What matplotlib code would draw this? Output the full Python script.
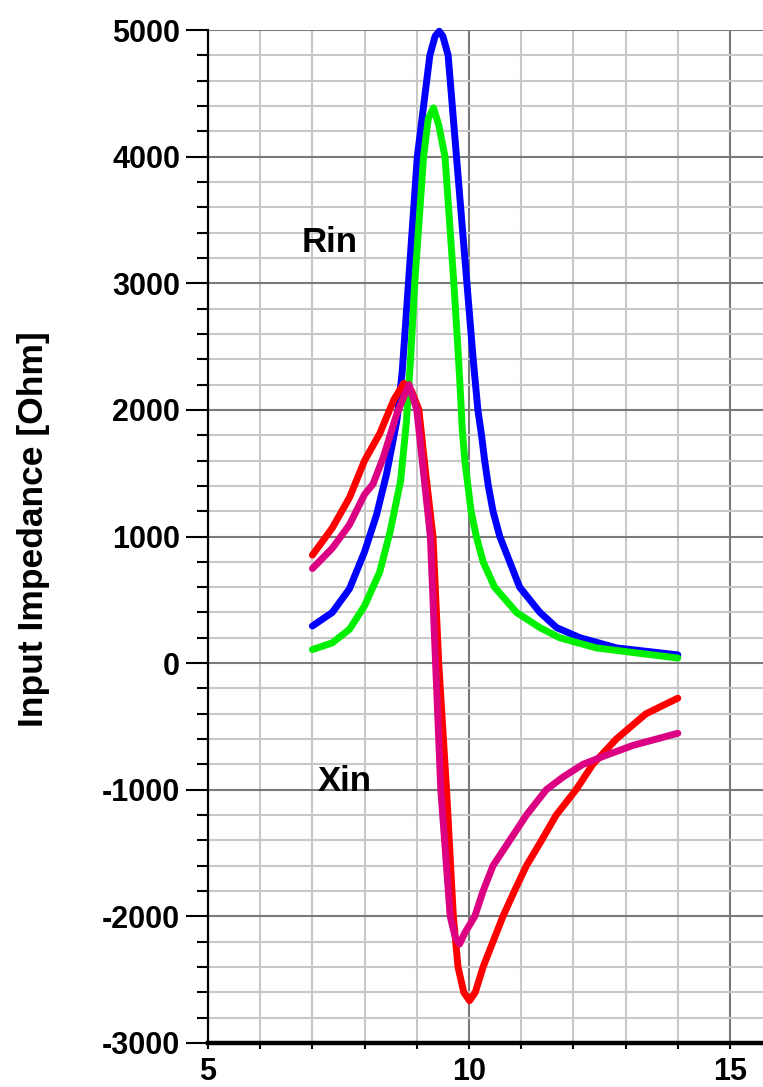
import matplotlib
matplotlib.use("Agg")
import matplotlib.pyplot as plt
from matplotlib.ticker import MultipleLocator

plt.rcParams['font.family'] = ['Liberation Sans', 'DejaVu Sans']
plt.rcParams['axes.unicode_minus'] = False

# Frequency axis values and impedance curves
rin1_x = [7.0, 7.38, 7.71, 8.0, 8.23, 8.42, 8.62, 8.72, 8.84, 9.01, 9.13, 9.25, 9.35, 9.43,
          9.5, 9.6, 9.76, 9.96, 10.08, 10.17, 10.24, 10.30, 10.37, 10.46, 10.59, 10.78,
          10.97, 11.36, 11.68, 12.13, 12.83, 14.0]
rin1_y = [293, 400, 587, 880, 1173, 1493, 1920, 2300, 3000, 4000, 4400, 4800, 4950, 4990,
          4950, 4800, 4000, 3000, 2400, 2000, 1800, 1600, 1400, 1200, 1000, 800,
          600, 400, 280, 200, 120, 65]

rin2_x = [7.0, 7.38, 7.71, 8.0, 8.29, 8.49, 8.69, 8.80, 8.88, 8.96, 9.13, 9.22, 9.32, 9.42,
          9.54, 9.71, 9.80, 9.84, 9.87, 9.92, 9.98, 10.04, 10.14, 10.27, 10.49, 10.91,
          11.36, 11.74, 12.44, 14.0]
rin2_y = [107, 160, 267, 453, 720, 1040, 1440, 1900, 2400, 3000, 4000, 4300, 4385, 4250,
          4000, 3000, 2400, 2100, 1850, 1600, 1400, 1200, 1000, 800, 600, 400,
          280, 200, 120, 40]

xin1_x = [7.0, 7.38, 7.71, 8.0, 8.29, 8.56, 8.75, 8.9, 9.04, 9.17, 9.31, 9.42, 9.57, 9.70,
          9.79, 9.9, 10.01, 10.12, 10.27, 10.46, 10.65, 10.87, 11.1, 11.39, 11.67, 12.05,
          12.37, 12.82, 13.39, 14.0]
xin1_y = [853, 1067, 1307, 1600, 1813, 2080, 2210, 2150, 2000, 1500, 1000, 0, -1000, -2000,
          -2400, -2600, -2666, -2600, -2400, -2200, -2000, -1800, -1600, -1400, -1200, -1000,
          -800, -600, -400, -277]

xin2_x = [7.0, 7.38, 7.71, 8.0, 8.16, 8.36, 8.62, 8.85, 9.0, 9.13, 9.26, 9.36, 9.46, 9.64,
          9.74, 9.82, 9.92, 10.11, 10.27, 10.46, 10.78, 11.1, 11.48, 11.8, 12.18, 12.63,
          13.14, 14.0]
xin2_y = [747, 907, 1093, 1333, 1413, 1627, 1973, 2200, 2000, 1500, 1000, 0, -1000, -2000,
          -2170, -2218, -2130, -2000, -1800, -1600, -1400, -1200, -1000, -900, -800, -727,
          -650, -554]

x_ticks = [5, 10, 15]
y_ticks = [-3000, -2000, -1000, 0, 1000, 2000, 3000, 4000, 5000]
y_label = "Input Impedance [Ohm]"
annotations = [("Rin", 6.80, 3244), ("Xin", 7.11, -1013)]

W, H = 763, 1087
fig = plt.figure(figsize=(W / 100, H / 100), dpi=100)
ax = fig.add_axes([208 / W, 1 - 1043 / H, (W - 208) / W, (1043 - 30) / H])

ax.set_xlim(5, 5 + 555 / 52.2)
ax.set_ylim(-3000, 5000)

ax.xaxis.set_major_locator(MultipleLocator(5))
ax.xaxis.set_minor_locator(MultipleLocator(1))
ax.yaxis.set_major_locator(MultipleLocator(1000))
ax.yaxis.set_minor_locator(MultipleLocator(200))
ax.set_xticks(x_ticks)
ax.set_yticks(y_ticks)

ax.grid(which='minor', color='#c8c8c8', linewidth=1.5, zorder=0)
ax.grid(which='major', color='#7a7a7a', linewidth=1.5, zorder=0)
ax.set_axisbelow(True)

for s in ['top', 'right']:
    ax.spines[s].set_visible(False)
ax.spines['left'].set_linewidth(1.6)
ax.spines['bottom'].set_linewidth(3.2)
ax.spines['left'].set_zorder(5)
ax.spines['bottom'].set_zorder(5)

ax.tick_params(axis='y', which='major', direction='out', length=16, width=1.5,
               labelsize=22, pad=4)
ax.tick_params(axis='y', which='minor', direction='out', length=8, width=1.5)
ax.tick_params(axis='x', which='major', direction='out', length=4, width=1.5,
               labelsize=22, pad=6)
ax.tick_params(axis='x', which='minor', direction='out', length=4, width=1.5)
for lab in ax.get_xticklabels() + ax.get_yticklabels():
    lab.set_fontweight('bold')

lw = 5.0
style = dict(linewidth=lw, zorder=3, clip_on=False, solid_joinstyle='round',
             solid_capstyle='round')
ax.plot(rin1_x, rin1_y, color='#0000ff', **style)
ax.plot(rin2_x, rin2_y, color='#00f000', **style)
ax.plot(xin1_x, xin1_y, color='#ff0000', **style)
ax.plot(xin2_x, xin2_y, color='#dc0082', **style)

for txt, tx, ty in annotations:
    ax.text(tx, ty, txt, fontsize=25, fontweight='bold', ha='left', va='baseline', zorder=4)

fig.text(34 / W, 1 - 529 / H, y_label, rotation=90, fontsize=25.5, fontweight='bold',
         ha='center', va='center')

fig.savefig('out.png', dpi=100)
